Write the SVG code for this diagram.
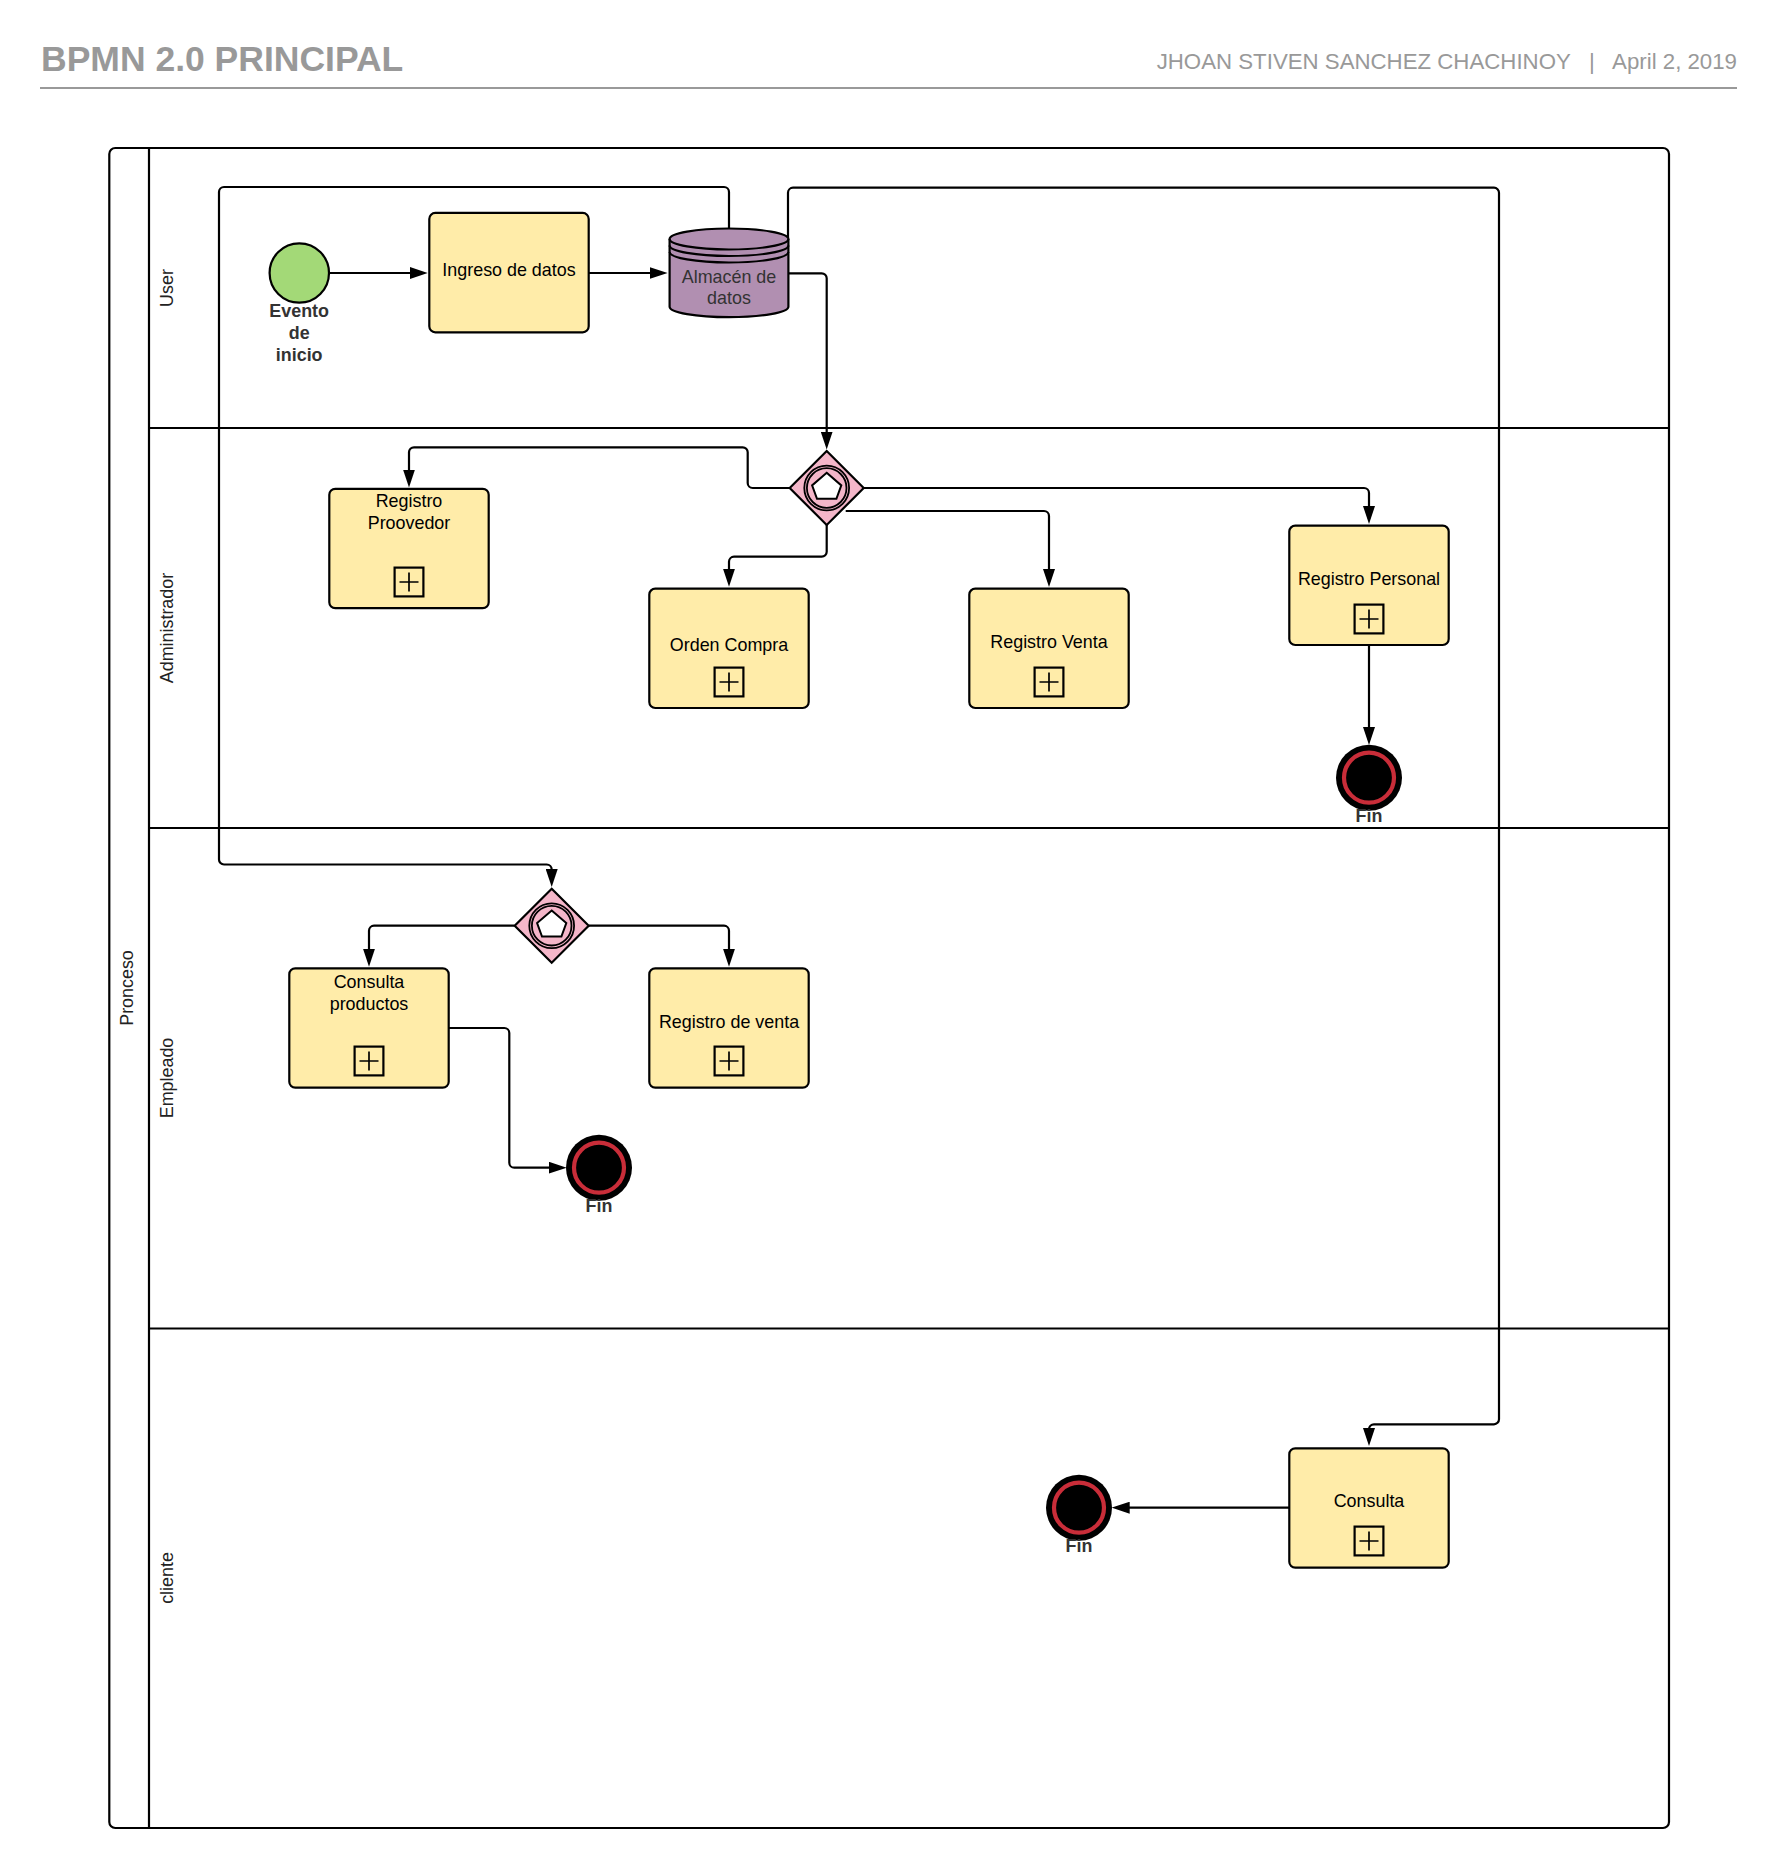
<svg xmlns="http://www.w3.org/2000/svg" width="1777" height="1868" viewBox="0 0 1777 1868">
<style>
text{font-family:"Liberation Sans",Arial,sans-serif}
.t{font-size:17.9px;fill:#000;text-anchor:middle}
.lane{font-size:17.9px;fill:#222;text-anchor:middle}
.ev{font-size:17.9px;font-weight:bold;fill:#333;text-anchor:middle}
.task{fill:#ffeca9;stroke:#000;stroke-width:2.2}
.box{fill:none;stroke:#000;stroke-width:2.2}
.plus{fill:none;stroke:#000;stroke-width:1.7}
.ln{fill:none;stroke:#000;stroke-width:2.2}
.c{fill:none;stroke:#000;stroke-width:2.2;marker-end:url(#arr)}
.dm{fill:#f4b6c9;stroke:#000;stroke-width:2.2}
.ring{fill:none;stroke:#000;stroke-width:1.8}
.pent{fill:#fff;stroke:#000;stroke-width:2}
.endo{fill:#000}
.endr{fill:#000;stroke:#c92d39;stroke-width:4.2}
.store{fill:#b18fb1;stroke:#000;stroke-width:2.2}
</style>
<defs>
<marker id="arr" markerUnits="userSpaceOnUse" markerWidth="18" markerHeight="12" refX="13" refY="6" orient="auto"><path d="M0,0L18,6L0,12z" fill="#000"/></marker>
<g id="plus"><rect class="box" x="-14.4" y="0.9" width="28.8" height="28.8"/><path class="plus" d="M-9.5,15.3H9.5M0,5.8V24.8"/></g>
<g id="gw"><path class="dm" d="M0,-37L37,0L0,37L-37,0z"/><circle class="ring" r="22.4"/><circle class="ring" r="19.8"/><path class="pent" d="M0,-15.2L14.6,-2.6L9.7,10.8H-9.7L-14.6,-2.6z"/></g>
<g id="fin"><circle class="endo" r="33"/><circle class="endr" r="25"/></g>
</defs>
<rect width="1777" height="1868" fill="#fff"/>
<g id="header">
<text x="41" y="71" font-size="35.5px" font-weight="bold" fill="#999">BPMN 2.0 PRINCIPAL</text>
<text x="1737" y="68.5" font-size="22.25px" fill="#999" text-anchor="end" xml:space="preserve">JHOAN STIVEN SANCHEZ CHACHINOY   |   April 2, 2019</text>
<path d="M40,88H1737" fill="none" stroke="#999" stroke-width="2"/>
</g>
<g id="pool">
<rect class="ln" x="109.3" y="148" width="1559.7" height="1680" rx="6"/>
<path class="ln" d="M149,148V1828M149,428H1669M149,828H1669M149,1328.5H1669"/>
<text class="lane" transform="translate(133,988) rotate(-90)">Pronceso</text>
<text class="lane" transform="translate(173,288) rotate(-90)">User</text>
<text class="lane" transform="translate(173,628) rotate(-90)">Administrador</text>
<text class="lane" transform="translate(173,1078) rotate(-90)">Empleado</text>
<text class="lane" transform="translate(173,1578) rotate(-90)">cliente</text>
</g>
<g id="connectors">
<path class="c" d="M329,273H422.7"/>
<path class="c" d="M589,273H662.6"/>
<path class="c" d="M729,228V192a5,5 0 0 0-5-5H224a5,5 0 0 0-5,5V859.5a5,5 0 0 0 5,5H546.7a5,5 0 0 1 5,5V882"/>
<path class="c" d="M788,239V192.7a5,5 0 0 1 5-5H1494a5,5 0 0 1 5,5V1419.3a5,5 0 0 1-5,5H1374a5,5 0 0 0-5,5V1441"/>
<path class="c" d="M789,273.3H821.7a5,5 0 0 1 5,5V444.5"/>
<path class="c" d="M789,488H752.7a5,5 0 0 1-5-5V452.3a5,5 0 0 0-5-5H414a5,5 0 0 0-5,5V482.5"/>
<path class="c" d="M826.7,525V551.7a5,5 0 0 1-5,5H734a5,5 0 0 0-5,5V581.7"/>
<path class="c" d="M845.7,511H1044a5,5 0 0 1 5,5V582"/>
<path class="c" d="M864,488H1364a5,5 0 0 1 5,5V519"/>
<path class="c" d="M1369,646V740"/>
<path class="c" d="M514.5,925.7H374a5,5 0 0 0-5,5V961.7"/>
<path class="c" d="M589,925.7H724a5,5 0 0 1 5,5V961.7"/>
<path class="c" d="M449,1028H504.3a5,5 0 0 1 5,5V1162.7a5,5 0 0 0 5,5H561.7"/>
<path class="c" d="M1289,1507.7H1116.7"/>
</g>
<g id="start"><circle cx="299.3" cy="273" r="29.7" fill="#a3d977" stroke="#000" stroke-width="2.2"/>
<text class="ev" x="299.2" y="317.3">Evento</text><text class="ev" x="299.2" y="339">de</text><text class="ev" x="299.2" y="360.5">inicio</text></g>
<g id="ingreso"><rect class="task" x="429.3" y="212.9" width="159.4" height="119.4" rx="6"/><text class="t" x="509" y="276">Ingreso de datos</text></g>
<g id="almacen">
<path class="store" d="M669.6,239A59.4,10.5 0 0 1 788.4,239V306.7A59.4,10.5 0 0 1 669.6,306.7z"/>
<path class="ln" d="M669.6,239A59.4,10.5 0 0 0 788.4,239M669.6,245.5A59.4,10.5 0 0 0 788.4,245.5M669.6,252A59.4,10.5 0 0 0 788.4,252"/>
<text class="t" style="fill:#333" x="729" y="282.6">Almacén de</text><text class="t" style="fill:#333" x="729" y="304">datos</text></g>
<g id="gw1"><use href="#gw" x="826.7" y="488"/></g>
<g id="proovedor"><rect class="task" x="329.3" y="488.8" width="159.4" height="119.4" rx="6"/><text class="t" x="409" y="507.3">Registro</text><text class="t" x="409" y="529">Proovedor</text><use href="#plus" x="409" y="566.7"/></g>
<g id="orden"><rect class="task" x="649.3" y="588.6" width="159.4" height="119.4" rx="6"/><text class="t" x="729" y="650.7">Orden Compra</text><use href="#plus" x="729" y="666.7"/></g>
<g id="venta"><rect class="task" x="969.3" y="588.6" width="159.4" height="119.4" rx="6"/><text class="t" x="1049" y="647.7">Registro Venta</text><use href="#plus" x="1049" y="666.7"/></g>
<g id="personal"><rect class="task" x="1289.3" y="525.6" width="159.4" height="119.4" rx="6"/><text class="t" x="1369" y="585">Registro Personal</text><use href="#plus" x="1369" y="603.7"/></g>
<g id="fin1"><use href="#fin" x="1369" y="777.7"/><text class="ev" x="1369" y="822">Fin</text></g>
<g id="gw2"><use href="#gw" x="551.7" y="925.7"/></g>
<g id="consultaprod"><rect class="task" x="289.3" y="968.3" width="159.4" height="119.4" rx="6"/><text class="t" x="369" y="988">Consulta</text><text class="t" x="369" y="1009.7">productos</text><use href="#plus" x="369" y="1045.7"/></g>
<g id="registroventa"><rect class="task" x="649.3" y="968.3" width="159.4" height="119.4" rx="6"/><text class="t" x="729" y="1028">Registro de venta</text><use href="#plus" x="729" y="1045.7"/></g>
<g id="fin2"><use href="#fin" x="599" y="1167.7"/><text class="ev" x="599" y="1212">Fin</text></g>
<g id="consulta"><rect class="task" x="1289.3" y="1448.3" width="159.4" height="119.4" rx="6"/><text class="t" x="1369" y="1507.3">Consulta</text><use href="#plus" x="1369" y="1525.7"/></g>
<g id="fin3"><use href="#fin" x="1079" y="1507.7"/><text class="ev" x="1079" y="1552">Fin</text></g>
</svg>
